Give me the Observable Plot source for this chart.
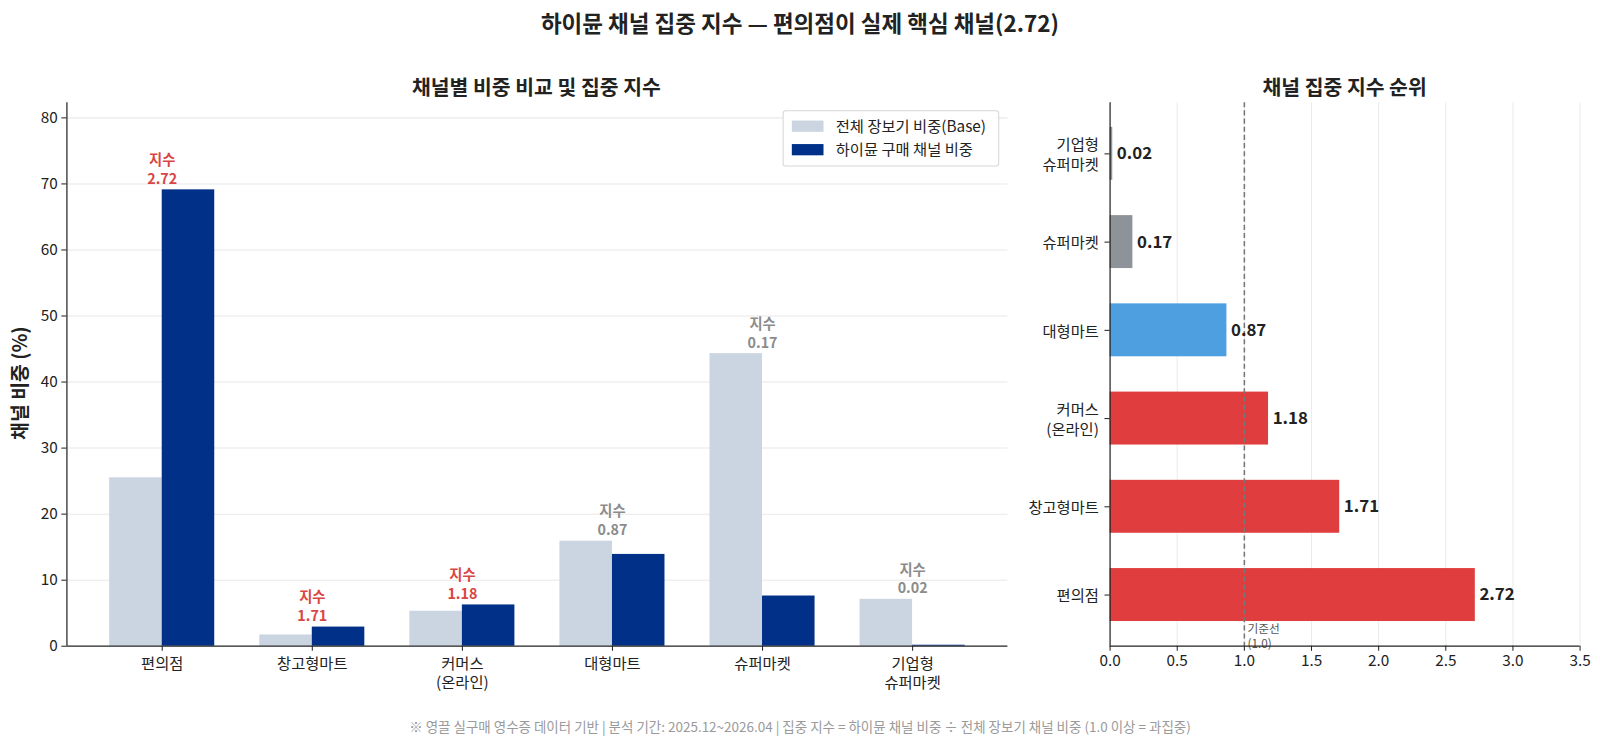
<!DOCTYPE html>
<html>
<head>
<meta charset="utf-8">
<script src="https://cdn.jsdelivr.net/npm/d3@7"></script>
<script src="https://cdn.jsdelivr.net/npm/@observablehq/plot@0.6"></script>
<style>
  html, body { margin: 0; padding: 0; background: #fff; }
  body { width: 1600px; height: 746px; position: relative; overflow: hidden;
         font-family: "Noto Sans CJK KR", "Noto Sans", sans-serif; color: #222; }
  #stage { position: absolute; left: 0; top: 0; width: 1566px; height: 730px; transform-origin: 0 0; transform: scale(1.02171); }
  .abs { position: absolute; }
  #title { top: 5px; left: 0; width: 1566px; text-align: center; font-size: 22px; font-weight: bold; color: #222; line-height: 32px; }
  .sub { top: 70px; font-size: 20px; font-weight: bold; color: #222; text-align: center; line-height: 30px; }
  #ylab { left: 18px; top: 375px; transform: translate(-50%, -50%) rotate(-90deg); font-size: 19px; font-weight: bold; white-space: nowrap; }
  #legend { left: 766px; top: 108px; width: 212px; height: 55px; border: 1px solid #d6d6d6; border-radius: 3px; background: rgba(255,255,255,0.9); box-sizing: border-box; }
  .li { position: absolute; left: 8px; font-size: 15px; display: flex; align-items: center; white-space: nowrap; color: #222; line-height: 20px; }
  .sw { width: 31px; height: 11px; margin-right: 12px; }
  #footer { top: 701px; left: 0; width: 1566px; text-align: center; font-size: 13.2px; color: #9a9a9a; }
  #left, #right { top: 90px; }
  #left { left: 0; } #right { left: 1000px; }
</style>
</head>
<body>
<div id="stage">
<div id="title" class="abs">하이뮨 채널 집중 지수 — 편의점이 실제 핵심 채널(2.72)</div>
<div class="abs sub" style="left:325px;width:400px;">채널별 비중 비교 및 집중 지수</div>
<div class="abs sub" style="left:1116px;width:400px;">채널 집중 지수 순위</div>
<div id="left" class="abs"></div>
<div id="right" class="abs"></div>
<div id="ylab" class="abs">채널 비중 (%)</div>
<div id="legend" class="abs"></div>
<div id="footer" class="abs">※ 영끌 실구매 영수증 데이터 기반 | 분석 기간: 2025.12~2026.04 | 집중 지수 = 하이뮨 채널 비중 ÷ 전체 장보기 채널 비중 (1.0 이상 = 과집중)</div>
</div>
<script>
// ---- data ----
const categories = ["편의점", "창고형마트", "커머스\n(온라인)", "대형마트", "슈퍼마켓", "기업형\n슈퍼마켓"];
const baseShare = [25.5, 1.7, 5.3, 15.9, 44.3, 7.1];      // 전체 장보기 비중(Base) %
const haimunShare = [69.1, 2.9, 6.25, 13.9, 7.6, 0.15];   // 하이뮨 구매 채널 비중 %
const indexValues = [2.72, 1.71, 1.18, 0.87, 0.17, 0.02]; // 집중 지수
const yTicks = [0, 10, 20, 30, 40, 50, 60, 70, 80];
const xIndexTicks = [0, 0.5, 1.0, 1.5, 2.0, 2.5, 3.0, 3.5];
const seriesNames = ["전체 장보기 비중(Base)", "하이뮨 구매 채널 비중"];

const COLORS = { base: "#cbd5e1", haimun: "#003087", red: "#e03e3e", blue: "#4d9fe0", gray: "#8e9399" };
const FONT = '"Noto Sans CJK KR", "Noto Sans", sans-serif';
const TICK = 15;

const rows = categories.map((c, i) => ({ i, cat: c, base: baseShare[i], haimun: haimunShare[i], idx: indexValues[i] }));
const W = 0.35;

// ---- left chart ----
const left = Plot.plot({
  width: 1000, height: 602,
  marginLeft: 65, marginRight: 14, marginTop: 10, marginBottom: 60,
  style: { fontFamily: FONT, fontSize: TICK + "px", color: "#222", background: "transparent", overflow: "visible" },
  x: { domain: [-0.635, 5.635] },
  y: { domain: [0, 82.3] },
  marks: [
    Plot.ruleY(yTicks.slice(1), { stroke: "#e8e8e8", strokeWidth: 1 }),
    Plot.rectY(rows, { x1: d => d.i - W, x2: d => d.i, y1: 0, y2: "base", fill: COLORS.base, inset: 0 }),
    Plot.rectY(rows, { x1: d => d.i, x2: d => d.i + W, y1: 0, y2: "haimun", fill: COLORS.haimun, inset: 0 }),
    Plot.text(rows, {
      x: "i", y: d => Math.max(d.base, d.haimun),
      text: d => `지수\n${d.idx.toFixed(2)}`,
      lineAnchor: "bottom", dy: -6, lineHeight: 1.3,
      fill: d => d.idx >= 1 ? "#d94545" : "#8c8c8c",
      fontWeight: "bold", fontSize: 14
    }),
    Plot.ruleY([0], { stroke: "#222", strokeWidth: 1.2 }),
    Plot.ruleX([-0.635], { stroke: "#222", strokeWidth: 1.2 }),
    Plot.axisX({ ticks: d3.range(categories.length), tickFormat: i => categories[i], tickSize: 5, tickPadding: 3, label: null, fontSize: TICK, lineHeight: 1.3, stroke: "#222" }),
    Plot.axisY({ ticks: yTicks, tickSize: 5, tickPadding: 4, label: null, fontSize: TICK, stroke: "#222" })
  ]
});
document.getElementById("left").appendChild(left);

// ---- right chart ----
const ranked = rows.slice().sort((a, b) => b.idx - a.idx).map((d, r) => ({ ...d, r }));
const idxColor = v => v >= 1 ? COLORS.red : (v >= 0.5 ? COLORS.blue : COLORS.gray);
const H = 0.3;
const right = Plot.plot({
  width: 560, height: 602,
  marginLeft: 86, marginRight: 14, marginTop: 10, marginBottom: 60,
  style: { fontFamily: FONT, fontSize: TICK + "px", color: "#222", background: "transparent", overflow: "visible" },
  x: { domain: [0, 3.5] },
  y: { domain: [-0.58, 5.58] },
  marks: [
    Plot.ruleX(xIndexTicks.slice(1), { stroke: "#ebebeb", strokeWidth: 1 }),
    Plot.rectX(ranked, { y1: d => d.r - H, y2: d => d.r + H, x1: 0, x2: "idx", fill: d => idxColor(d.idx), inset: 0 }),
    Plot.ruleX([1], { stroke: "#777", strokeWidth: 1.5, strokeDasharray: "5,3" }),
    Plot.text(ranked, { x: "idx", y: "r", text: d => d.idx.toFixed(2), textAnchor: "start", dx: 4, fontWeight: "bold", fontSize: 16.5, fill: "#222" }),
    Plot.text([1], { x: d => d, y: [-0.58], text: ["기준선\n(1.0)"], textAnchor: "start", lineAnchor: "bottom", dx: 3, dy: 2, fontSize: 11.5, fill: "#555", lineHeight: 1.3 }),
    Plot.ruleX([0], { stroke: "#222", strokeWidth: 1.2 }),
    Plot.ruleY([-0.58], { stroke: "#222", strokeWidth: 1.2 }),
    Plot.axisX({ ticks: xIndexTicks, tickFormat: d => d.toFixed(1), tickSize: 5, tickPadding: 4, label: null, fontSize: TICK, stroke: "#222" }),
    Plot.axisY({ ticks: d3.range(ranked.length), tickFormat: r => ranked[r].cat, tickSize: 5, tickPadding: 6, label: null, fontSize: TICK, lineHeight: 1.3, stroke: "#222" })
  ]
});
document.getElementById("right").appendChild(right);

// ---- legend ----
const legend = document.getElementById("legend");
[COLORS.base, COLORS.haimun].forEach((c, k) => {
  const el = document.createElement("div");
  el.className = "li";
  el.style.top = (k === 0 ? 4 : 27) + "px";
  el.innerHTML = `<span class="sw" style="background:${c}"></span><span>${seriesNames[k]}</span>`;
  legend.appendChild(el);
});
</script>
</body>
</html>
